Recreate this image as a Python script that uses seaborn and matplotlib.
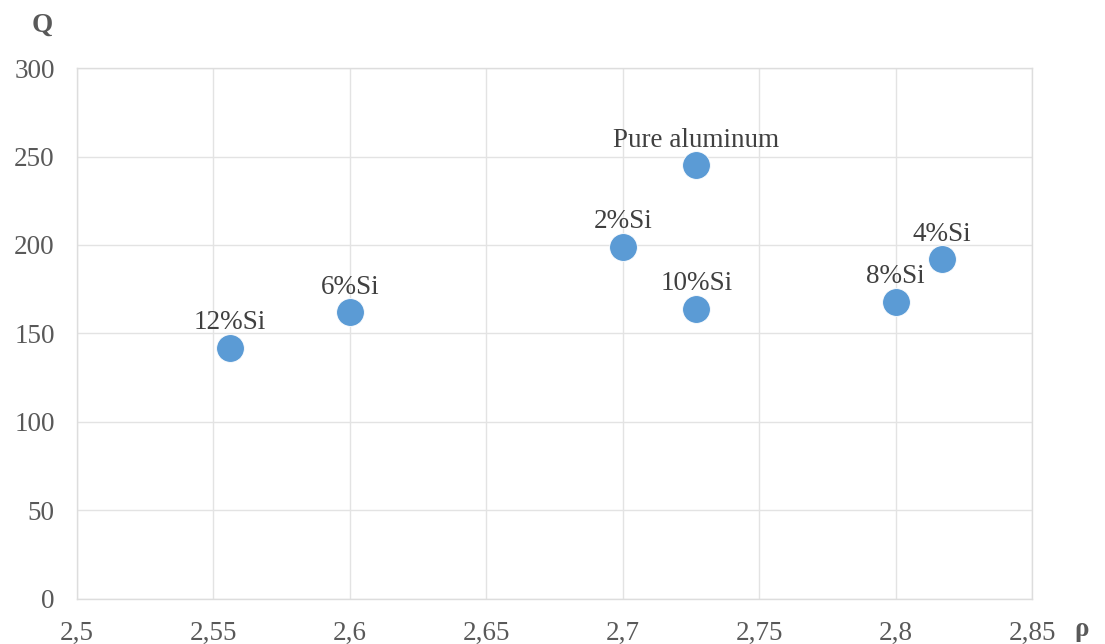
import matplotlib
matplotlib.use('Agg')
import matplotlib.pyplot as plt
import seaborn as sns
import pandas as pd

# data
labels = ['Pure aluminum', '2%Si', '4%Si', '6%Si', '8%Si', '10%Si', '12%Si']
density = [2.727, 2.700, 2.817, 2.600, 2.800, 2.727, 2.556]
q_values = [245, 199, 192, 162, 168, 164, 142]

xticks = [2.5, 2.55, 2.6, 2.65, 2.7, 2.75, 2.8, 2.85]
xtick_labels = ['2,5', '2,55', '2,6', '2,65', '2,7', '2,75', '2,8', '2,85']
yticks = [0, 50, 100, 150, 200, 250, 300]

df = pd.DataFrame({'rho': density, 'Q': q_values, 'label': labels})

sns.set_style('white')
plt.rcParams['font.family'] = ['Liberation Serif', 'DejaVu Serif']

fig = plt.figure(figsize=(11.05, 6.44), dpi=100)
ax = fig.add_axes([0.0697, 0.0699, 0.8643, 0.8245])

sns.scatterplot(data=df, x='rho', y='Q', ax=ax, s=400, color='#5B9BD5',
                edgecolor='white', linewidth=0.6, zorder=3)

for _, row in df.iterrows():
    ax.annotate(row['label'], (row['rho'], row['Q']), xytext=(0, 9),
                textcoords='offset points', ha='center', va='bottom',
                fontsize=19.5, color='#404040')

ax.set_xlim(2.5, 2.85)
ax.set_ylim(0, 300)
ax.set_xticks(xticks)
ax.set_xticklabels(xtick_labels)
ax.set_yticks(yticks)
ax.tick_params(axis='both', labelsize=19.5, labelcolor='#595959', length=0, pad=16)
ax.grid(True, color='#E3E3E3', linewidth=1.0)
for sp in ax.spines.values():
    sp.set_color('#DDDDDD')
    sp.set_linewidth(1.0)
ax.set_xlabel('')
ax.set_ylabel('')

fig.text(42 / 1105, 1 - 25 / 644, 'Q', ha='center', va='center',
         fontsize=19.5, fontweight='bold', color='#595959')
fig.text(1082 / 1105, 1 - 630 / 644, 'ρ', ha='center', va='center',
         fontsize=19.5, fontweight='bold', color='#595959')

fig.savefig('out.png', dpi=100)
